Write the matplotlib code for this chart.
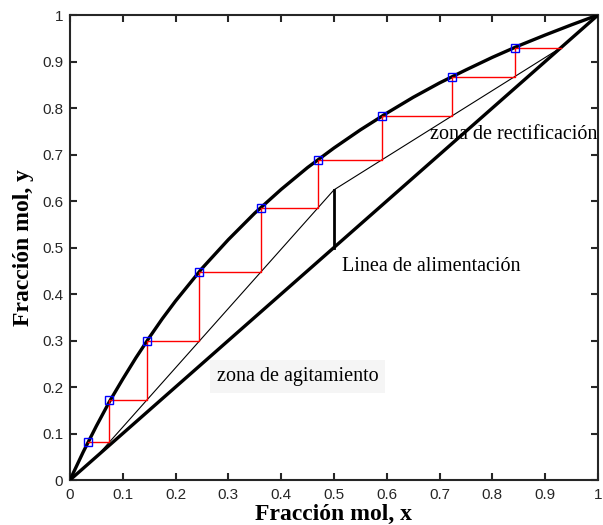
import numpy as np
import matplotlib.pyplot as plt

# equilibrium curve
eq_x = [0, 0.025, 0.05, 0.075, 0.1, 0.125, 0.15, 0.175, 0.2, 0.25, 0.3, 0.35,
        0.4, 0.45, 0.5, 0.55, 0.6, 0.65, 0.7, 0.75, 0.8, 0.85, 0.9, 0.95, 1.0]
eq_y = [0, 0.060, 0.116, 0.169, 0.217, 0.263, 0.306, 0.347, 0.385, 0.455, 0.517, 0.574,
        0.625, 0.672, 0.714, 0.753, 0.789, 0.823, 0.854, 0.882, 0.909, 0.934, 0.957, 0.979, 1.0]

# operating lines (stripping -> feed point -> rectifying)
op_x = [0.05, 0.5, 0.93]
op_y = [0.05, 0.624, 0.93]

# feed line (q = 1)
feed_x = [0.5, 0.5]
feed_y = [0.5, 0.624]

# stages on the equilibrium curve
stage_x = [0.842, 0.724, 0.591, 0.470, 0.361, 0.245, 0.146, 0.074, 0.034]
stage_y = [0.930, 0.867, 0.783, 0.689, 0.586, 0.448, 0.299, 0.172, 0.082]
x_dist = 0.93

# staircase path
path_x = [x_dist]
path_y = [stage_y[0]]
for i in range(len(stage_x)):
    path_x.append(stage_x[i])
    path_y.append(stage_y[i])
    if i + 1 < len(stage_x):
        path_x.append(stage_x[i])
        path_y.append(stage_y[i + 1])

fig = plt.figure(figsize=(6.03, 5.25), dpi=100)
ax = fig.add_axes([0.116, 0.0857, 0.8757, 0.8857])

ax.plot([0, 1], [0, 1], color='black', lw=2.4, zorder=3)
ax.plot(eq_x, eq_y, color='black', lw=2.4, zorder=3)
ax.plot(op_x, op_y, color='black', lw=0.8, zorder=3)
ax.plot(feed_x, feed_y, color='black', lw=2, zorder=3)
ax.plot(path_x, path_y, color='red', lw=1, zorder=4)
ax.plot(stage_x, stage_y, 's', color='blue', mfc='none', ms=5.5, mew=1, zorder=5)

ax.text(0.682, 0.742, 'zona de rectificación', family='Liberation Serif',
        fontsize=14.5, va='center', ha='left', zorder=2)
ax.text(0.515, 0.459, 'Linea de alimentación', family='Liberation Serif',
        fontsize=14.5, va='center', ha='left', zorder=2)
ax.text(0.278, 0.222, 'zona de agitamiento', family='Liberation Serif',
        fontsize=14.5, va='center', ha='left', zorder=2,
        bbox=dict(facecolor='#f5f5f5', edgecolor='none', pad=5))

ax.set_xlim(0, 1)
ax.set_ylim(0, 1)
ticks = np.round(np.arange(0, 1.01, 0.1), 1)
labels = ['0'] + ['%.1f' % t for t in ticks[1:-1]] + ['1']
ax.set_xticks(ticks)
ax.set_xticklabels(labels)
ax.set_yticks(ticks)
ax.set_yticklabels(labels)
ax.tick_params(direction='in', top=True, right=True, length=5, width=1.5,
               labelsize=11, pad=5, colors='#262626', labelcolor='#262626')
ax.tick_params(axis='x', pad=6)
for lab in ax.get_xticklabels() + ax.get_yticklabels():
    lab.set_family('Liberation Sans')
for s in ax.spines.values():
    s.set_linewidth(1.5)
    s.set_color('#262626')

ax.set_xlabel('Fracción mol, x', family='Liberation Serif', fontweight='bold',
              fontsize=17, labelpad=1)
ax.set_ylabel('Fracción mol, y', family='Liberation Serif', fontweight='bold',
              fontsize=17, labelpad=6)

fig.savefig('out.png', dpi=100)
